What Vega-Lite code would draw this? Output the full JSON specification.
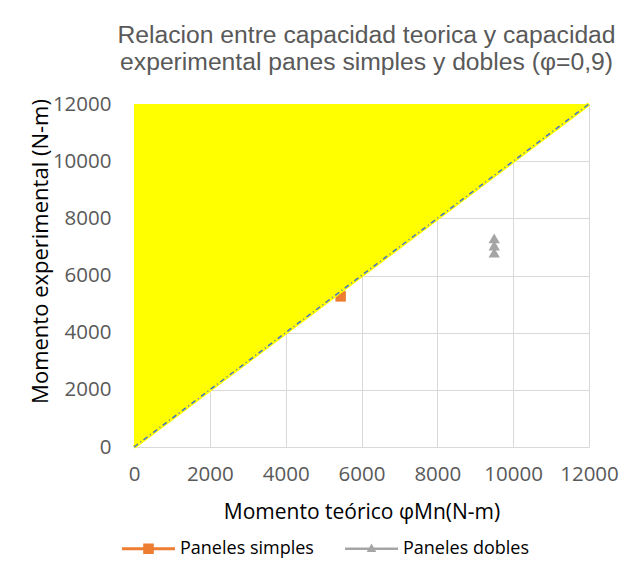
{
  "$schema": "https://vega.github.io/schema/vega-lite/v6.json",
  "width": 455,
  "height": 343,
  "autosize": {"type": "none"},
  "padding": {"left": 134, "top": 104, "right": 52, "bottom": 128},
  "background": "white",
  "title": {
    "text": ["Relacion entre capacidad teorica y capacidad", "experimental panes simples y dobles (φ=0,9)"],
    "anchor": "middle",
    "font": "Liberation Sans",
    "fontSize": 24.7,
    "fontWeight": "normal",
    "color": "#595959",
    "lineHeight": 27,
    "offset": 19,
    "dx": 5
  },
  "config": {
    "view": {"stroke": null},
    "axis": {
      "grid": true,
      "gridColor": "#d9d9d9",
      "gridWidth": 1,
      "domain": false,
      "ticks": false,
      "format": "d",
      "labelOverlap": false,
      "labelFlush": false,
      "labelFont": "Open Sans",
      "labelFontSize": 20.5,
      "labelColor": "#595959",
      "titleFont": "Open Sans",
      "titleFontSize": 21,
      "titleFontWeight": "normal",
      "titleColor": "#000000"
    }
  },
  "datasets": {
    "puntos": [
      {"serie": "Paneles simples", "teorico": 5450, "experimental": 5270},
      {"serie": "Paneles dobles", "teorico": 9500, "experimental": 7300},
      {"serie": "Paneles dobles", "teorico": 9500, "experimental": 7050},
      {"serie": "Paneles dobles", "teorico": 9500, "experimental": 6800}
    ],
    "zona": [
      {"teorico": 0, "bajo": 0, "alto": 12000},
      {"teorico": 12000, "bajo": 12000, "alto": 12000}
    ],
    "leyenda": [
      {"leyenda": "Paneles simples"},
      {"leyenda": "Paneles dobles"}
    ]
  },
  "layer": [
    {
      "data": {"name": "leyenda"},
      "mark": {"type": "point", "filled": true, "opacity": 0},
      "encoding": {
        "color": {
          "field": "leyenda",
          "type": "nominal",
          "scale": {"domain": ["Paneles simples", "Paneles dobles"], "range": ["#ED7D31", "#A5A5A5"]},
          "legend": {
            "title": null,
            "orient": "none",
            "direction": "horizontal",
            "legendX": -12,
            "legendY": 418,
            "symbolSize": 2809,
            "symbolOpacity": 1,
            "symbolStrokeWidth": 0,
            "labelFont": "Open Sans",
            "labelFontSize": 18,
            "labelColor": "#000000",
            "labelOffset": 5,
            "columnPadding": 31
          }
        },
        "shape": {
          "field": "leyenda",
          "type": "nominal",
          "scale": {
            "domain": ["Paneles simples", "Paneles dobles"],
            "range": [
              "M-1,-0.06H1V0.06H-1Z M-0.2,-0.2H0.2V0.2H-0.2Z",
              "M-1,-0.05H1V0.05H-1Z M0,-0.2L0.18,0.12H-0.18Z"
            ]
          },
          "legend": {
            "title": null,
            "orient": "none",
            "direction": "horizontal",
            "legendX": -12,
            "legendY": 418,
            "symbolSize": 2809,
            "symbolOpacity": 1,
            "symbolStrokeWidth": 0,
            "labelFont": "Open Sans",
            "labelFontSize": 18,
            "labelColor": "#000000",
            "labelOffset": 5,
            "columnPadding": 31
          }
        }
      }
    },
    {
      "data": {"name": "puntos"},
      "transform": [{"filter": "datum.serie === 'Paneles simples'"}],
      "mark": {"type": "point", "shape": "square", "filled": true, "color": "#ED7D31", "opacity": 1, "size": 110},
      "encoding": {
        "x": {"field": "teorico", "type": "quantitative", "scale": {"domain": [0, 12000], "nice": false}},
        "y": {"field": "experimental", "type": "quantitative", "scale": {"domain": [0, 12000], "nice": false}}
      }
    },
    {
      "data": {"name": "puntos"},
      "transform": [{"filter": "datum.serie === 'Paneles dobles'"}],
      "mark": {"type": "point", "shape": "triangle-up", "filled": true, "color": "#A5A5A5", "opacity": 1, "size": 130},
      "encoding": {
        "x": {"field": "teorico", "type": "quantitative"},
        "y": {"field": "experimental", "type": "quantitative"}
      }
    },
    {
      "data": {"name": "zona"},
      "mark": {"type": "area", "color": "#FFFF00", "opacity": 1},
      "encoding": {
        "x": {"field": "teorico", "type": "quantitative"},
        "y": {"field": "bajo", "type": "quantitative"},
        "y2": {"field": "alto"}
      }
    },
    {
      "data": {"name": "zona"},
      "mark": {"type": "line", "color": "#FFFF00", "strokeWidth": 4},
      "encoding": {
        "x": {"field": "teorico", "type": "quantitative"},
        "y": {"field": "bajo", "type": "quantitative"}
      }
    },
    {
      "data": {"name": "zona"},
      "mark": {"type": "line", "color": "#4472C4", "strokeWidth": 1.5, "strokeDash": [5, 3, 1, 3]},
      "encoding": {
        "x": {
          "field": "teorico",
          "type": "quantitative",
          "axis": {
            "title": "Momento teórico φMn(N-m)",
            "values": [0, 2000, 4000, 6000, 8000, 10000, 12000],
            "labelPadding": 17,
            "titleY": 65,
            "titleBaseline": "middle"
          }
        },
        "y": {
          "field": "bajo",
          "type": "quantitative",
          "axis": {
            "title": "Momento experimental (N-m)",
            "values": [0, 2000, 4000, 6000, 8000, 10000, 12000],
            "labelPadding": 23,
            "titleFontSize": 22,
            "titleX": -94,
            "titleY": 147,
            "titleBaseline": "middle",
            "titleAngle": -90
          }
        }
      }
    }
  ]
}
